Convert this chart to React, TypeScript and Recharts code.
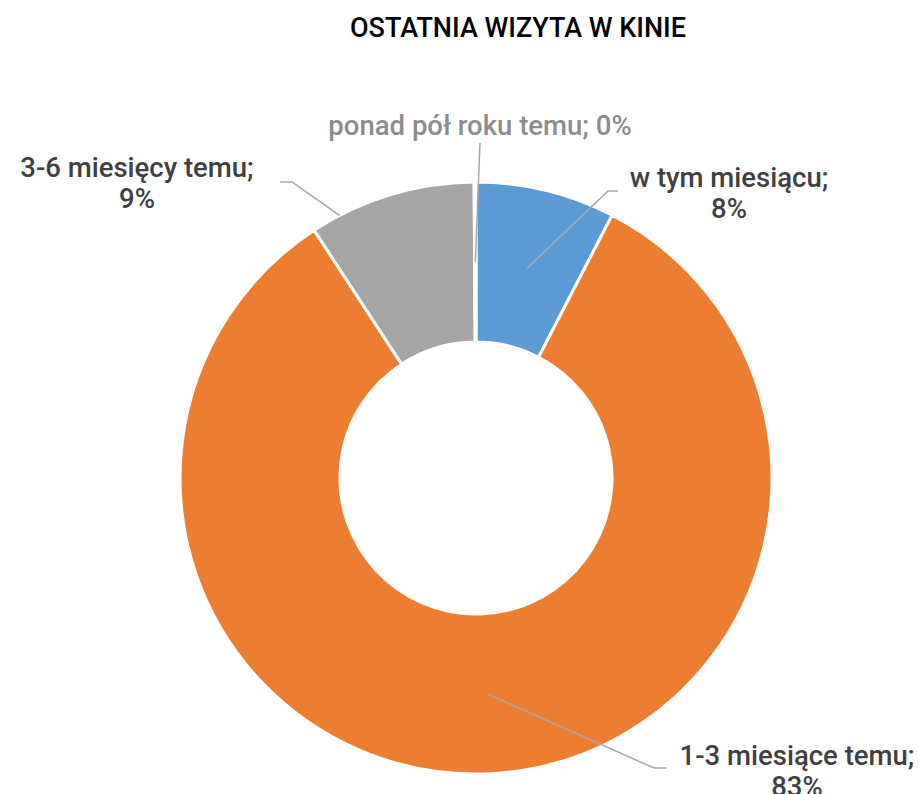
import { PieChart, Pie, Cell } from "recharts";

const categories = ["w tym miesiącu", "1-3 miesiące temu", "3-6 miesięcy temu", "ponad pół roku temu"];
const shares = [7.6, 83.1, 9.1, 0.1];
const COLORS = ["#5B9BD5", "#ED7D31", "#A5A5A5", "#FFC000"];

const data = categories.map((name, i) => ({ name, value: shares[i] }));

// leader line + label placement, relative to the pie centre
const LABELS = [
  { r0: 216, shift: 0, elbow: [132, -287], tail: [142, -287], text: [253, -291], twoLines: true, color: "#404040" },
  { r0: 216, shift: 0, elbow: [178, 290], tail: [191, 290], text: [321, 287], twoLines: true, color: "#404040" },
  { r0: 296, shift: 10.7, elbow: [-184, -296], tail: [-196, -296], text: [-339, -301], twoLines: true, color: "#404040" },
  { r0: 216, shift: 0, elbow: [4, -335], tail: [4, -335], text: [4, -343], twoLines: false, color: "#8C8C8C" },
];

const RAD = Math.PI / 180;
const FONT = "Roboto, 'Noto Sans', sans-serif";

function renderLabel(props: any) {
  const { cx, cy, midAngle, percent, index, name } = props;
  const cfg = LABELS[index];
  const a = midAngle + cfg.shift;
  const sx = cx + cfg.r0 * Math.cos(-a * RAD);
  const sy = cy + cfg.r0 * Math.sin(-a * RAD);
  const pct = `${Math.round(percent * 100)}%`;
  const tx = cx + cfg.text[0];
  const ty = cy + cfg.text[1];
  return (
    <g key={`lbl-${index}`}>
      <polyline
        points={`${sx},${sy} ${cx + cfg.elbow[0]},${cy + cfg.elbow[1]} ${cx + cfg.tail[0]},${cy + cfg.tail[1]}`}
        fill="none"
        stroke="#A6A6A6"
        strokeWidth={1.5}
      />
      <text x={tx} y={ty} textAnchor="middle" fill={cfg.color} fontFamily={FONT} fontWeight={500} fontSize={27.5}>
        {cfg.twoLines ? (
          <>
            <tspan x={tx} dy={0}>{`${name};`}</tspan>
            <tspan x={tx} dy={31}>{pct}</tspan>
          </>
        ) : (
          `${name}; ${pct}`
        )}
      </text>
    </g>
  );
}

export default function App() {
  return (
    <div style={{ position: "relative", width: 919, height: 794, overflow: "hidden", background: "#fff" }}>
      <style>{`body{margin:0}`}</style>
      <svg width={919} height={60} style={{ position: "absolute", top: 0, left: 0 }}>
        <text x={518} y={37} textAnchor="middle" fontFamily={FONT} fontWeight={500} fontSize={27} fill="#000">
          OSTATNIA WIZYTA W KINIE
        </text>
      </svg>
      <PieChart width={919} height={794} margin={{ top: 0, right: 0, bottom: 0, left: 0 }}>
        <Pie
          data={data}
          dataKey="value"
          nameKey="name"
          cx={476}
          cy={478}
          innerRadius={136}
          outerRadius={296}
          startAngle={90}
          endAngle={-270}
          stroke="#FFFFFF"
          strokeWidth={3}
          label={renderLabel}
          labelLine={false}
          isAnimationActive={false}
        >
          {data.map((entry, i) => (
            <Cell key={`cell-${i}`} fill={COLORS[i]} />
          ))}
        </Pie>
      </PieChart>
    </div>
  );
}
